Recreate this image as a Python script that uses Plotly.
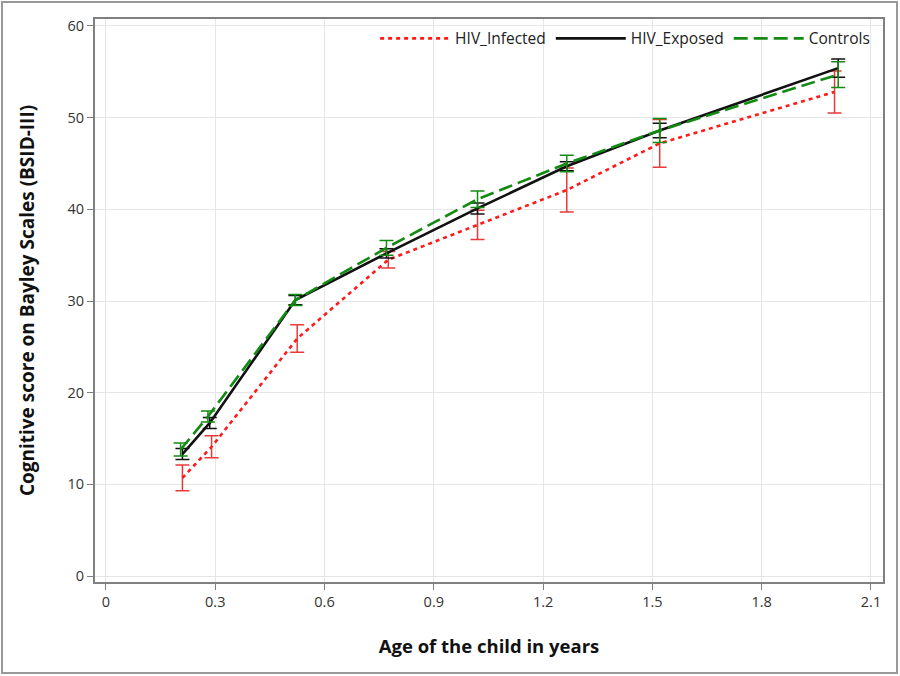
#!/usr/bin/env python3

"""
cognitive score (BSID-III) vs. age, by HIV status
"""

import plotly.graph_objects as go

# ---------------------------------------------------------------------------
# data
# ---------------------------------------------------------------------------
age_infected = [0.21, 0.29, 0.525, 0.775, 1.02, 1.265, 1.52, 2.0]
age_exposed = [0.21, 0.285, 0.52, 0.77, 1.02, 1.265, 1.52, 2.01]
age_controls = [0.205, 0.28, 0.52, 0.77, 1.02, 1.265, 1.52, 2.01]

score_infected = [10.7, 14.1, 25.9, 34.5, 38.3, 42.1, 47.2, 52.8]
err_infected = [1.4, 1.2, 1.5, 0.9, 1.6, 2.4, 2.6, 2.3]

score_exposed = [13.3, 16.7, 30.1, 35.2, 40.1, 44.7, 48.6, 55.4]
err_exposed = [0.6, 0.6, 0.5, 0.5, 0.6, 0.5, 0.8, 1.0]

score_controls = [13.8, 17.4, 30.1, 35.8, 41.1, 45.0, 48.6, 54.7]
err_controls = [0.7, 0.6, 0.6, 0.8, 0.9, 0.9, 1.3, 1.4]

x_ticks = [0, 0.3, 0.6, 0.9, 1.2, 1.5, 1.8, 2.1]
x_ticklabels = ["0", "0.3", "0.6", "0.9", "1.2", "1.5", "1.8", "2.1"]
y_ticks = [0, 10, 20, 30, 40, 50, 60]

# ---------------------------------------------------------------------------
# style
# ---------------------------------------------------------------------------
COL_INF = "#FF1A1A"
COL_INF_ERR = "#E83A3A"
COL_EXP = "#111111"
COL_CTL = "#138A13"
FRAME = "#808080"
GRID = "#E6E6E6"
FONT = "Open Sans, Noto Sans, sans-serif"

series = [
    ("HIV_Infected", age_infected, score_infected, err_infected, COL_INF, COL_INF_ERR, "4px,4px"),
    ("HIV_Exposed", age_exposed, score_exposed, err_exposed, COL_EXP, COL_EXP, "solid"),
    ("Controls", age_controls, score_controls, err_controls, COL_CTL, COL_CTL, "14px,6px"),
]

fig = go.Figure()
for name, x, y, err, col, ecol, dash in series:
    fig.add_trace(
        go.Scatter(
            x=x,
            y=y,
            mode="lines",
            name=name,
            line=dict(color=col, width=2.6, dash=dash),
            error_y=dict(
                type="data",
                array=err,
                visible=True,
                color=ecol,
                thickness=1.5,
                width=7,
            ),
        )
    )

axis_common = dict(
    showgrid=True,
    gridcolor=GRID,
    gridwidth=1,
    zeroline=False,
    showline=True,
    linecolor=FRAME,
    linewidth=2,
    mirror=True,
    ticks="outside",
    ticklen=6,
    tickcolor=FRAME,
    tickfont=dict(family=FONT, size=14.5, color="#333333"),
)

fig.update_xaxes(
    range=[-0.030, 2.133],
    tickvals=x_ticks,
    ticktext=x_ticklabels,
    title=dict(
        text="<b>Age of the child in years</b>",
        font=dict(family=FONT, size=18.5, color="#111111"),
        standoff=30,
    ),
    **axis_common,
)
fig.update_yaxes(
    range=[-0.65, 60.76],
    tickvals=y_ticks,
    title=dict(
        text="<b>Cognitive score on Bayley Scales (BSID-III)</b>",
        font=dict(family=FONT, size=19, color="#111111"),
        standoff=28,
    ),
    **axis_common,
)

# thin grey frame round the whole picture
fig.add_shape(
    type="rect",
    xref="paper",
    yref="paper",
    x0=(2 - 95) / 788,
    x1=(897 - 95) / 788,
    y0=(582 - 673) / 563,
    y1=(582 - 2) / 563,
    line=dict(color="#999999", width=2),
    layer="below",
)

fig.update_layout(
    width=900,
    height=676,
    paper_bgcolor="white",
    plot_bgcolor="white",
    font=dict(family=FONT, size=14, color="#222222"),
    margin=dict(l=95, r=17, t=19, b=94),
    showlegend=True,
    legend=dict(
        orientation="h",
        x=0.99,
        xanchor="right",
        y=0.995,
        yanchor="top",
        bgcolor="rgba(255,255,255,0)",
        font=dict(family=FONT, size=15.5, color="#222222"),
        itemwidth=70,
    ),
)

# drop the page's default body margin so the figure sits at the window corner
fig.write_html(
    "out.html",
    config={"displayModeBar": False},
    post_script="document.body.style.margin='0';",
)
